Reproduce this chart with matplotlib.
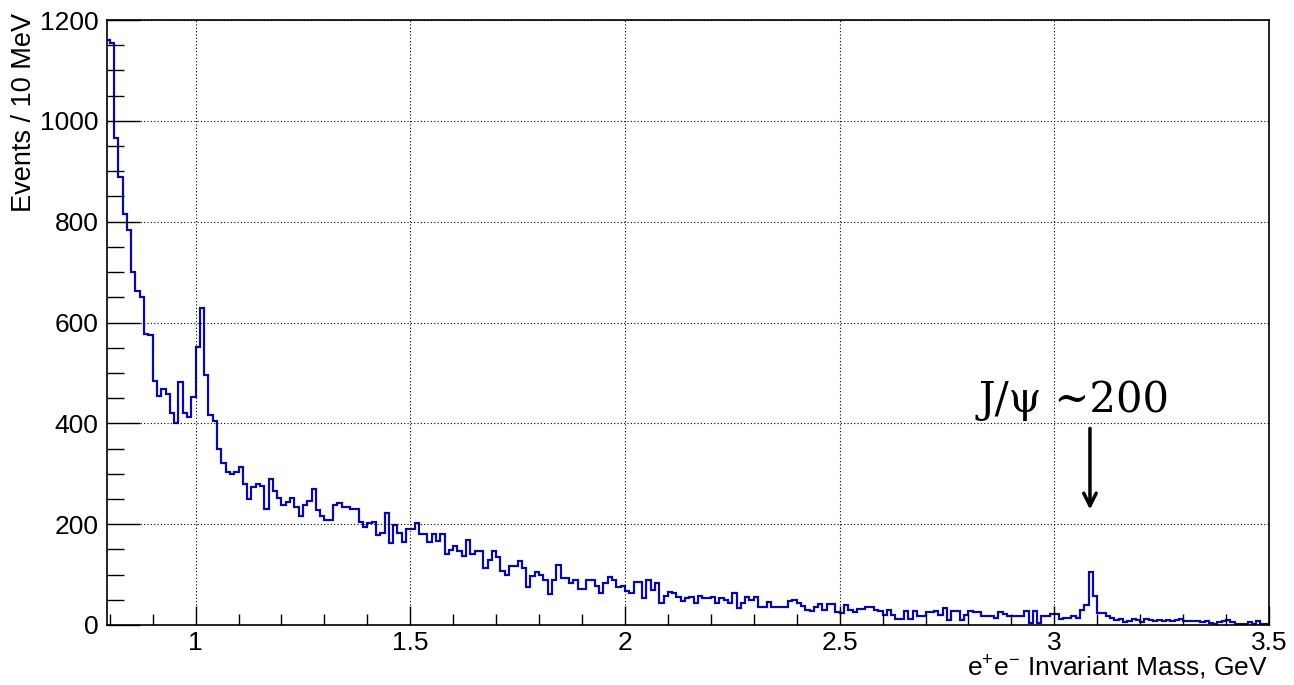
import numpy as np
import matplotlib
matplotlib.use("Agg")
import matplotlib.pyplot as plt
from matplotlib.ticker import MultipleLocator

# ---- data: events per 10 MeV bin, first bin starts at 0.79 GeV ----
bin_start = 0.79
bin_width = 0.01

counts_079_099 = [1160, 1155, 965, 889, 816, 783, 701, 663, 650, 578, 576,
                  484, 454, 469, 458, 421, 401, 482, 421, 413, 452]
counts_100_119 = [551, 629, 496, 417, 404, 350, 322, 303, 300, 303,
                  314, 279, 250, 274, 280, 275, 230, 289, 265, 252]
counts_120_139 = [239, 243, 252, 235, 217, 239, 245, 270, 229, 217,
                  208, 208, 239, 241, 234, 235, 230, 230, 204, 194]
counts_140_159 = [202, 204, 179, 182, 223, 163, 199, 182, 164, 190,
                  190, 202, 180, 180, 164, 180, 166, 180, 141, 148]
counts_160_179 = [157, 146, 137, 168, 141, 146, 146, 113, 129, 146,
                  135, 108, 100, 117, 117, 126, 113, 76, 97, 106]
counts_180_199 = [100, 90, 62, 90, 119, 93, 93, 84, 90, 71,
                  71, 90, 90, 78, 63, 84, 95, 89, 76, 78]
counts_200_219 = [68, 64, 86, 86, 53, 90, 70, 84, 44, 58,
                  66, 63, 56, 48, 53, 56, 43, 58, 53, 53]
counts_220_239 = [55, 44, 53, 50, 44, 63, 33, 44, 55, 50,
                  56, 35, 36, 46, 36, 36, 36, 36, 48, 50]
counts_240_259 = [44, 38, 30, 27, 36, 42, 30, 42, 42, 25,
                  23, 40, 30, 25, 31, 31, 35, 35, 30, 27]
counts_260_279 = [20, 30, 20, 11, 11, 28, 11, 28, 17, 17,
                  25, 25, 27, 20, 33, 10, 28, 27, 9, 20]
counts_280_299 = [28, 25, 25, 18, 17, 17, 13, 25, 22, 18,
                  18, 18, 18, 27, 3, 28, 3, 18, 17, 22]
counts_300_319 = [21, 11, 13, 13, 17, 13, 30, 40, 106, 58,
                  23, 23, 18, 13, 9, 11, 5, 7, 11, 9]
counts_320_349 = [5, 11, 9, 7, 10, 7, 9, 7, 9, 11,
                  7, 7, 7, 7, 5, 7, 3, 2, 5, 7,
                  9, 5, 2, 2, 2, 5, 2, 7, 2, 2]

counts = np.array(counts_079_099 + counts_100_119 + counts_120_139 +
                  counts_140_159 + counts_160_179 + counts_180_199 +
                  counts_200_219 + counts_220_239 + counts_240_259 +
                  counts_260_279 + counts_280_299 + counts_300_319 +
                  counts_320_349, dtype=float)
edges = bin_start + bin_width * np.arange(len(counts) + 1)

x_major_ticks = [1, 1.5, 2, 2.5, 3, 3.5]
x_tick_labels = ["1", "1.5", "2", "2.5", "3", "3.5"]
y_major_ticks = [0, 200, 400, 600, 800, 1000, 1200]

annotation_text = "J/\u03c8 ~200"
x_title = r"e$^{+}$e$^{-}$ Invariant Mass, GeV"
y_title = "Events / 10 MeV"

# ---- figure ----
plt.rcParams["font.family"] = ["Liberation Sans", "DejaVu Sans"]
plt.rcParams["mathtext.default"] = "regular"

W, H = 1294, 685
fig = plt.figure(figsize=(W / 100, H / 100), dpi=100)
ax = fig.add_axes([107 / W, 1 - 625 / H, (1269 - 107) / W, (625 - 20) / H])

ax.stairs(counts, edges, color="#0a0a9e", lw=1.6, baseline=None)

ax.set_xlim(0.7937, 3.5)
ax.set_ylim(0, 1200)

ax.set_xticks(x_major_ticks)
ax.set_xticklabels(x_tick_labels)
ax.xaxis.set_minor_locator(MultipleLocator(0.1))
ax.set_yticks(y_major_ticks)
ax.yaxis.set_minor_locator(MultipleLocator(50))

ax.tick_params(axis="x", which="major", direction="in", length=14, width=1.0,
               labelsize=19, pad=4, top=False)
ax.tick_params(axis="x", which="minor", direction="in", length=8, width=1.0, top=False)
ax.tick_params(axis="y", which="major", direction="in", length=24, width=1.0,
               labelsize=19, pad=6, right=False)
ax.tick_params(axis="y", which="minor", direction="in", length=12, width=1.0, right=False)

ax.grid(True, which="major", linestyle=(0, (1, 2)), color="black", lw=0.8)
for s in ax.spines.values():
    s.set_linewidth(1.2)
    s.set_color("black")

fig.text(1268 / W, 1 - 676 / H, x_title, ha="right", va="baseline", fontsize=19)
fig.text(24 / W, 1 - 13 / H, y_title, ha="center", va="top", rotation=90,
         fontsize=19.5)

ax.text(2.824, 422, annotation_text, family=["DejaVu Serif"],
        fontsize=30, ha="left", va="baseline")
ax.annotate("", xy=(3.083, 229), xytext=(3.083, 390),
            arrowprops=dict(arrowstyle="->,head_width=0.45,head_length=0.9",
                            lw=2.5, color="black", shrinkA=0, shrinkB=0))

fig.savefig("out.png", dpi=100)
